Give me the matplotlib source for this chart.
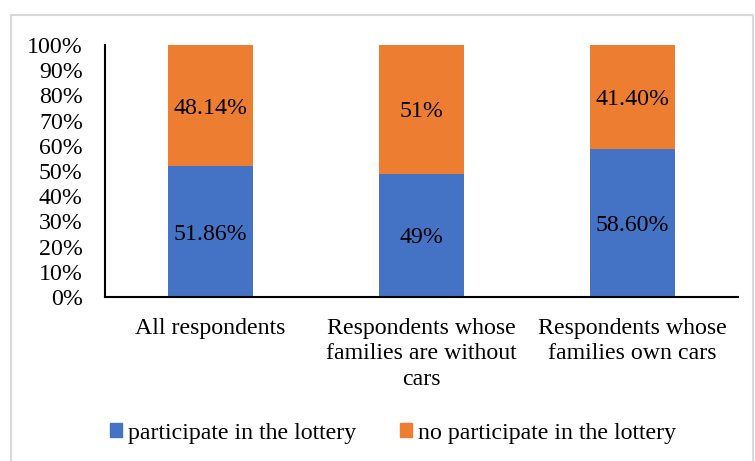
import matplotlib
matplotlib.use('Agg')
import matplotlib.pyplot as plt
from matplotlib.patches import Rectangle, Patch

categories = ['All respondents',
              'Respondents whose\nfamilies are without\ncars',
              'Respondents whose\nfamilies own cars']
participate = [51.86, 49, 58.60]
no_participate = [48.14, 51, 41.40]
participate_labels = ['51.86%', '49%', '58.60%']
no_participate_labels = ['48.14%', '51%', '41.40%']
yticks = [0, 10, 20, 30, 40, 50, 60, 70, 80, 90, 100]

plt.rcParams['font.family'] = ['Liberation Serif', 'DejaVu Serif']
fs = 17.2

fig = plt.figure(figsize=(7.55, 4.61), dpi=100)
ax = fig.add_axes([105 / 755, 1 - 297 / 461, 633 / 755, 252 / 461])

# light grey frame around the chart area
fig.patches.append(Rectangle((11 / 755, -0.01), 742 / 755, 1 - 15 / 461 + 0.01,
                             transform=fig.transFigure, fill=False,
                             edgecolor='#d9d9d9', linewidth=1.5))

x = range(len(categories))
blue = '#4472c4'
orange = '#ed7d31'
ax.bar(x, participate, width=0.4, color=blue)
ax.bar(x, no_participate, width=0.4, bottom=participate, color=orange)

for i in x:
    ax.text(i, participate[i] / 2 - 1, participate_labels[i], ha='center', va='center', fontsize=fs)
    ax.text(i, participate[i] + no_participate[i] / 2 - 1, no_participate_labels[i],
            ha='center', va='center', fontsize=fs)

ax.set_xlim(-0.5, 2.5)
ax.set_ylim(0, 100)
ax.set_yticks(yticks)
ax.set_yticklabels(['{}%'.format(t) for t in yticks], fontsize=fs)
ax.set_xticks(list(x))
ax.set_xticklabels(categories, fontsize=fs, linespacing=1.28)
ax.tick_params(axis='y', length=0, pad=16)
ax.tick_params(axis='x', length=0, pad=15)
ax.spines['top'].set_visible(False)
ax.spines['right'].set_visible(False)
ax.spines['left'].set_linewidth(1.5)
ax.spines['bottom'].set_linewidth(1.5)

handles = [Patch(color=blue, label='participate in the lottery'),
           Patch(color=orange, label='no participate in the lottery')]
fig.legend(handles=handles, loc='center', bbox_to_anchor=(393 / 755, 1 - 433 / 461),
           ncol=2, frameon=False, fontsize=fs, handlelength=0.5, handleheight=0.5,
           handletextpad=0.25, columnspacing=1.85)

fig.savefig('out.png', dpi=100)
